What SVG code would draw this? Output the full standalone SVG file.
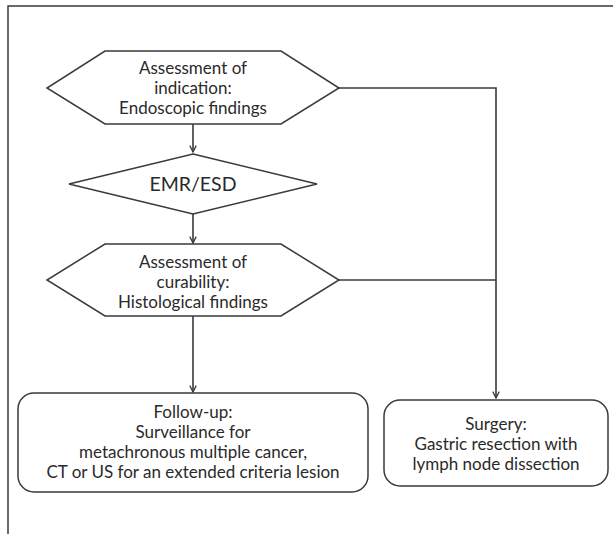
<svg xmlns="http://www.w3.org/2000/svg" width="613" height="534" viewBox="0 0 613 534">
<defs>
<style>
.shape{fill:#fff;stroke:#3a3a3a;stroke-width:1.5}
.frame{fill:none;stroke:#3a3a3a;stroke-width:1.5}
.conn{fill:none;stroke:#3a3a3a;stroke-width:1.6}
.t{font-family:Lato,"Liberation Sans",sans-serif;font-size:17px;fill:#2a2a2a;text-anchor:middle}
.big{font-size:19.5px}
</style>
<marker id="arr" viewBox="0 0 10 10" refX="9" refY="5" markerWidth="8" markerHeight="8" markerUnits="userSpaceOnUse" orient="auto">
<path d="M1,1 L9,5 L1,9" fill="none" stroke="#3a3a3a" stroke-width="1.6"/>
</marker>
</defs>
<rect class="frame" x="8" y="6" width="640" height="560"/>
<g id="connectors">
<line class="conn" x1="193" y1="124" x2="193" y2="152" marker-end="url(#arr)"/>
<line class="conn" x1="193" y1="214" x2="193" y2="243" marker-end="url(#arr)"/>
<line class="conn" x1="193" y1="316" x2="193" y2="392" marker-end="url(#arr)"/>
<polyline class="conn" points="339,88 496,88 496,398" marker-end="url(#arr)"/>
<line class="conn" x1="339" y1="280" x2="496" y2="280"/>
</g>
<g id="indication">
<polygon class="shape" points="105,51 281,51 339,88 281,124 105,124 47,88"/>
<text class="t" x="193" y="74">Assessment of</text>
<text class="t" x="193" y="94">indication:</text>
<text class="t" x="193" y="114">Endoscopic findings</text>
</g>
<g id="emr">
<polygon class="shape" points="193,154 317,184 193,214 69,184"/>
<text class="t big" x="193" y="191">EMR/ESD</text>
</g>
<g id="curability">
<polygon class="shape" points="105,244 281,244 339,280 281,316 105,316 47,280"/>
<text class="t" x="193" y="268">Assessment of</text>
<text class="t" x="193" y="288">curability:</text>
<text class="t" x="193" y="308">Histological findings</text>
</g>
<g id="followup">
<rect class="shape" x="18" y="393" width="350" height="99" rx="16"/>
<text class="t" x="193" y="418">Follow-up:</text>
<text class="t" x="193" y="438">Surveillance for</text>
<text class="t" x="193" y="458">metachronous multiple cancer,</text>
<text class="t" x="193" y="478">CT or US for an extended criteria lesion</text>
</g>
<g id="surgery">
<rect class="shape" x="384" y="400" width="224" height="86" rx="16"/>
<text class="t" x="496" y="430">Surgery:</text>
<text class="t" x="496" y="450">Gastric resection with</text>
<text class="t" x="496" y="470">lymph node dissection</text>
</g>
</svg>
